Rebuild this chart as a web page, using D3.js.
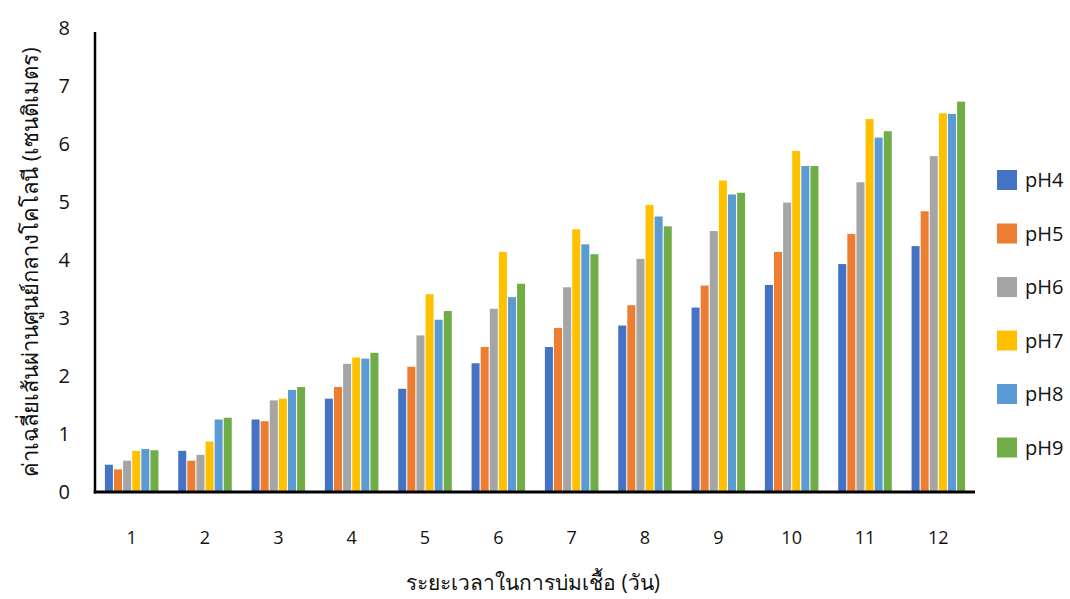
<!DOCTYPE html>
<html>
<head>
<meta charset="utf-8">
<script src="https://cdn.jsdelivr.net/npm/d3@7"></script>
<style>
  body { margin: 0; background: #fff; }
  text { font-family: "Open Sans", "Noto Sans", "DejaVu Sans", sans-serif; fill: #111; }
</style>
</head>
<body>
<div id="chart"></div>
<script>
// days of incubation
var days = ["1", "2", "3", "4", "5", "6", "7", "8", "9", "10", "11", "12"];
var seriesNames = ["pH4", "pH5", "pH6", "pH7", "pH8", "pH9"];
var colors = ["#4472C4", "#ED7D31", "#A5A5A5", "#FFC000", "#5B9BD5", "#70AD47"];

// mean colony diameter (cm), one array per pH
var pH4 = [0.47, 0.71, 1.25, 1.61, 1.78, 2.22, 2.50, 2.87, 3.18, 3.57, 3.93, 4.24];
var pH5 = [0.39, 0.54, 1.22, 1.81, 2.16, 2.50, 2.83, 3.22, 3.56, 4.14, 4.45, 4.84];
var pH6 = [0.54, 0.64, 1.58, 2.21, 2.70, 3.16, 3.53, 4.02, 4.50, 4.99, 5.34, 5.79];
var pH7 = [0.71, 0.87, 1.61, 2.32, 3.41, 4.14, 4.53, 4.95, 5.37, 5.88, 6.43, 6.53];
var pH8 = [0.74, 1.25, 1.76, 2.30, 2.97, 3.36, 4.27, 4.75, 5.13, 5.62, 6.11, 6.52];
var pH9 = [0.72, 1.28, 1.81, 2.40, 3.12, 3.59, 4.10, 4.58, 5.16, 5.62, 6.22, 6.73];
var yTicks = [0, 1, 2, 3, 4, 5, 6, 7, 8];

var allSeries = [pH4, pH5, pH6, pH7, pH8, pH9];

var drawChart = function() {
  var W = 1070, H = 599;
  var plotLeft = 95, plotRight = 975, plotTop = 28, plotBottom = 492;

  var svg = d3.select("#chart").append("svg")
    .attr("width", W)
    .attr("height", H);

  var x = d3.scaleBand()
    .domain(days)
    .range([plotLeft, plotRight])
    .paddingInner(0.24)
    .paddingOuter(0.12);

  var xSub = d3.scaleBand()
    .domain(seriesNames)
    .range([0, x.bandwidth()])
    .padding(0.12);

  var y = d3.scaleLinear()
    .domain([0, 8])
    .range([plotBottom, plotTop]);

  // bars
  var groups = svg.selectAll(".day")
    .data(days)
    .enter()
    .append("g")
    .attr("class", "day")
    .attr("transform", function(d) { return "translate(" + x(d) + ",0)"; });

  groups.selectAll("rect")
    .data(function(d, i) {
      return seriesNames.map(function(s, k) { return {name: s, k: k, value: allSeries[k][i]}; });
    })
    .enter()
    .append("rect")
    .attr("x", function(d) { return xSub(d.name); })
    .attr("width", xSub.bandwidth())
    .attr("y", function(d) { return y(d.value); })
    .attr("height", function(d) { return plotBottom - y(d.value); })
    .attr("fill", function(d) { return colors[d.k]; });

  // axis lines
  svg.append("line")
    .attr("x1", plotLeft).attr("x2", plotLeft)
    .attr("y1", plotTop + 4).attr("y2", plotBottom + 1.5)
    .attr("stroke", "#000").attr("stroke-width", 2.5);
  svg.append("line")
    .attr("x1", plotLeft - 1.2).attr("x2", plotRight)
    .attr("y1", plotBottom).attr("y2", plotBottom)
    .attr("stroke", "#000").attr("stroke-width", 3);

  // y tick labels
  svg.selectAll(".ytick")
    .data(yTicks)
    .enter()
    .append("text")
    .attr("class", "ytick")
    .attr("x", 70)
    .attr("y", function(d) { return y(d); })
    .attr("dy", "0.35em")
    .attr("text-anchor", "end")
    .style("font-size", "20px")
    .text(function(d) { return d; });

  // x tick labels
  svg.selectAll(".xtick")
    .data(days)
    .enter()
    .append("text")
    .attr("class", "xtick")
    .attr("x", function(d) { return x(d) + x.bandwidth() / 2; })
    .attr("y", 538)
    .attr("dy", "0.35em")
    .attr("text-anchor", "middle")
    .style("font-size", "18px")
    .text(function(d) { return d; });

  // axis titles
  svg.append("text")
    .attr("x", 533)
    .attr("y", 583)
    .attr("dy", "0.35em")
    .attr("text-anchor", "middle")
    .style("font-size", "21px")
    .text("ระยะเวลาในการบ่มเชื้อ (วัน)");

  svg.append("text")
    .attr("transform", "translate(30,262) rotate(-90)")
    .attr("dy", "0.35em")
    .attr("text-anchor", "middle")
    .style("font-size", "22px")
    .text("ค่าเฉลี่ยเส้นผ่านศูนย์กลางโคโลนี (เซนติเมตร)");

  // legend
  var legend = svg.selectAll(".legend")
    .data(seriesNames)
    .enter()
    .append("g")
    .attr("class", "legend")
    .attr("transform", function(d, i) { return "translate(997," + (180 + i * 53.5) + ")"; });

  legend.append("rect")
    .attr("x", 0).attr("y", -10)
    .attr("width", 20).attr("height", 20)
    .attr("fill", function(d, i) { return colors[i]; });

  legend.append("text")
    .attr("x", 28)
    .attr("y", 0)
    .attr("dy", "0.35em")
    .style("font-size", "20px")
    .text(function(d) { return d; });
};

drawChart();
</script>
</body>
</html>
